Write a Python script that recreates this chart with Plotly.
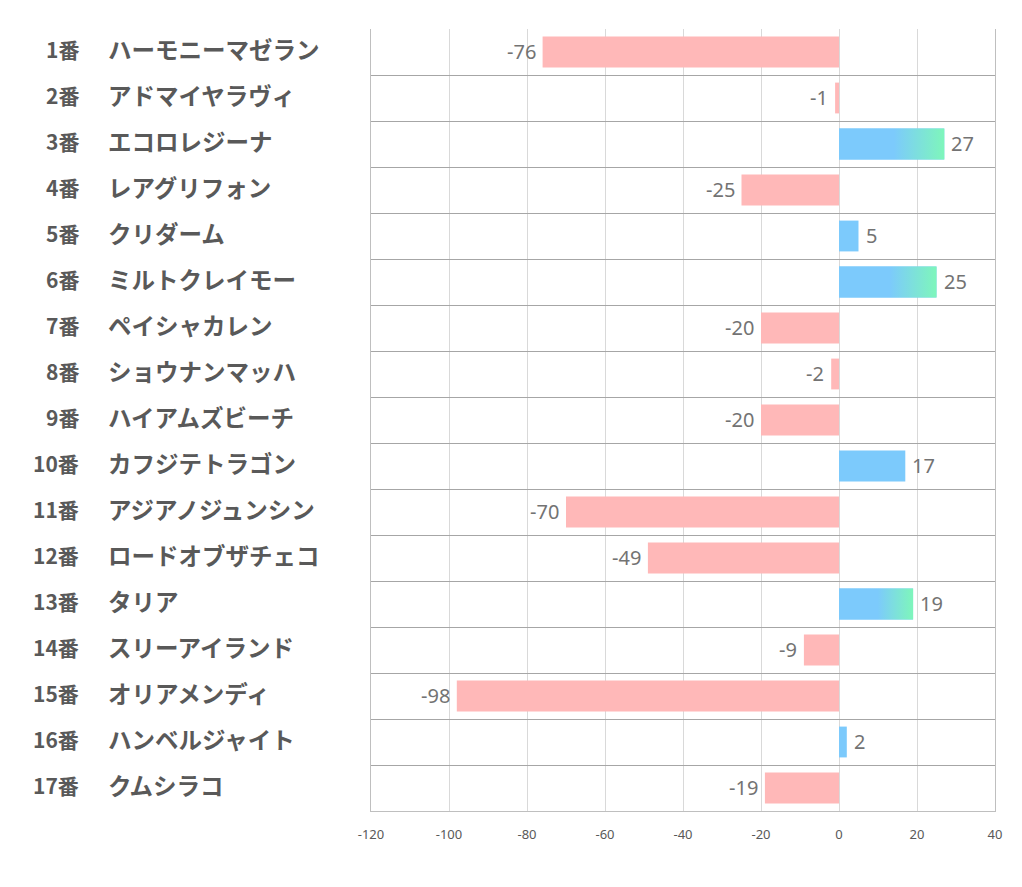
import plotly.graph_objects as go

numbers = ["1番", "2番", "3番", "4番", "5番", "6番", "7番", "8番", "9番", "10番",
           "11番", "12番", "13番", "14番", "15番", "16番", "17番"]
names = ["ハーモニーマゼラン", "アドマイヤラヴィ", "エコロレジーナ", "レアグリフォン", "クリダーム",
         "ミルトクレイモー", "ペイシャカレン", "ショウナンマッハ", "ハイアムズビーチ", "カフジテトラゴン",
         "アジアノジュンシン", "ロードオブザチェコ", "タリア", "スリーアイランド", "オリアメンディ",
         "ハンベルジャイト", "クムシラコ"]
values = [-76, -1, 27, -25, 5, 25, -20, -2, -20, 17, -70, -49, 19, -9, -98, 2, -19]
x_ticks = [-120, -100, -80, -60, -40, -20, 0, 20, 40]

BLUE = "#7ccafc"
GREEN = "#7ef6bb"
PINK = "#ffb8b8"
BAR_W = 0.67
GRAD_MIN = 18

rows = list(range(len(values)))
fig = go.Figure()
fig.add_trace(go.Bar(
    y=rows, x=values, orientation="h", width=BAR_W,
    marker=dict(color=[BLUE if v > 0 else PINK for v in values], line=dict(width=0)),
    showlegend=False, hoverinfo="skip",
))

for i, v in zip(rows, values):
    if v >= GRAD_MIN:
        fig.add_trace(go.Scatter(
            x=[0, v, v, 0, 0],
            y=[i - BAR_W / 2, i - BAR_W / 2, i + BAR_W / 2, i + BAR_W / 2, i - BAR_W / 2],
            mode="lines", line=dict(width=0), fill="toself",
            fillgradient=dict(type="horizontal",
                              colorscale=[[0, BLUE], [0.52, BLUE], [1, GREEN]]),
            showlegend=False, hoverinfo="skip",
        ))

# page body has an 8px offset in the browser
OFF = 8
PL, PT, PW, PH = 371, 29, 624, 782
W, H = 1022, 887
L = PL - OFF
T = PT - OFF
R = W - L - PW
B = H - T - PH

label_font = dict(family="Noto Sans CJK JP", color="#595959", weight="bold")
annotations = []
for i, (n, nm) in enumerate(zip(numbers, names)):
    annotations.append(dict(
        x=(81 - PL) / PW, y=i, xref="paper", yref="y", text=n, showarrow=False,
        xanchor="right", yanchor="middle", yshift=3, font=dict(size=21, **label_font),
    ))
    annotations.append(dict(
        x=(106 - PL) / PW, y=i, xref="paper", yref="y", text=nm, showarrow=False,
        xanchor="left", yanchor="middle", yshift=3, font=dict(size=23.5, **label_font),
    ))
for i, v in zip(rows, values):
    annotations.append(dict(
        x=v, y=i, xref="x", yref="y", text=str(v), showarrow=False,
        xanchor="left" if v > 0 else "right", yanchor="middle",
        xshift=5 if v > 0 else -5, yshift=1,
        font=dict(family="Noto Sans", size=20, color="#737373"),
    ))

fig.update_layout(
    width=W, height=H,
    margin=dict(l=L, r=R, t=T, b=B),
    paper_bgcolor="white", plot_bgcolor="white",
    barmode="overlay",
    annotations=annotations,
    xaxis=dict(range=[-120, 40], tickvals=x_ticks, ticktext=[str(t) for t in x_ticks],
               showgrid=True, gridcolor="#d9d9d9", gridwidth=1, zeroline=False,
               showline=True, linecolor="#bfbfbf", linewidth=1, mirror=False,
               ticks="", tickfont=dict(family="Noto Sans", size=13, color="#595959"),
               ticklabelstandoff=11),
    yaxis=dict(range=[16.5, -0.5], tickmode="linear", tick0=0.5, dtick=1,
               showticklabels=False, showgrid=True, gridcolor="#a6a6a6", gridwidth=1,
               zeroline=False, showline=True, linecolor="#bfbfbf", linewidth=1, mirror=True,
               ticks=""),
)

fig.write_html("out.html")
